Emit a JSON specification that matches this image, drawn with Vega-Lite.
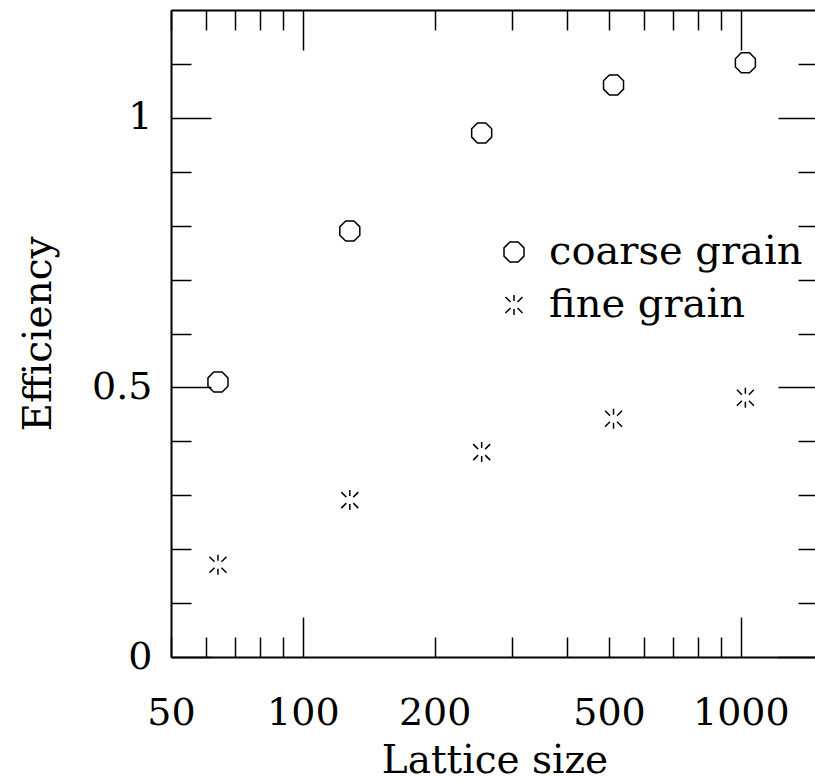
{
  "$schema": "https://vega.github.io/schema/vega-lite/v6.json",
  "width": 647,
  "height": 647,
  "autosize": {"type": "none"},
  "padding": {"left": 171, "top": 10, "right": -3, "bottom": 124},
  "background": "white",
  "config": {
    "view": {"stroke": null},
    "font": "DejaVu Serif",
    "axis": {
      "grid": false,
      "domainColor": "black",
      "domainWidth": 2,
      "tickColor": "black",
      "tickWidth": 1.5,
      "labelColor": "black",
      "labelFont": "DejaVu Serif",
      "labelFontSize": 38,
      "labelFlush": false,
      "labelOverlap": false,
      "labelBound": false,
      "titleFont": "DejaVu Serif",
      "titleFontSize": 39,
      "titleFontWeight": "normal",
      "titleColor": "black"
    },
    "legend": {
      "labelFont": "DejaVu Serif",
      "labelFontSize": 40,
      "labelColor": "black",
      "labelLimit": 0
    }
  },
  "data": {
    "values": [
      {"size": 64, "efficiency": 0.510, "grain": "coarse grain"},
      {"size": 128, "efficiency": 0.790, "grain": "coarse grain"},
      {"size": 256, "efficiency": 0.972, "grain": "coarse grain"},
      {"size": 512, "efficiency": 1.061, "grain": "coarse grain"},
      {"size": 1024, "efficiency": 1.102, "grain": "coarse grain"},
      {"size": 64, "efficiency": 0.171, "grain": "fine grain"},
      {"size": 128, "efficiency": 0.291, "grain": "fine grain"},
      {"size": 256, "efficiency": 0.380, "grain": "fine grain"},
      {"size": 512, "efficiency": 0.442, "grain": "fine grain"},
      {"size": 1024, "efficiency": 0.481, "grain": "fine grain"}
    ]
  },
  "layer": [
    {
      "mark": {"type": "point", "filled": false, "color": "black", "strokeWidth": 1.5, "size": 400, "opacity": 1},
      "encoding": {
        "x": {
          "field": "size",
          "type": "quantitative",
          "scale": {"type": "log", "domain": [50, 1500], "nice": false},
          "axis": {
            "orient": "bottom",
            "title": "Lattice size",
            "values": [50, 60, 70, 80, 90, 100, 200, 300, 400, 500, 600, 700, 800, 900, 1000],
            "format": "d",
            "labelExpr": "datum.value === 50 || datum.value === 100 || datum.value === 200 || datum.value === 500 || datum.value === 1000 ? datum.label : ''",
            "tickSize": {"condition": {"test": "datum.value === 100 || datum.value === 1000", "value": -40}, "value": -20},
            "labelPadding": {"condition": {"test": "datum.value === 100 || datum.value === 1000", "value": 77}, "value": 57},
            "titlePadding": 9
          }
        },
        "y": {
          "field": "efficiency",
          "type": "quantitative",
          "scale": {"domain": [0, 1.2], "nice": false, "zero": false},
          "axis": {
            "orient": "left",
            "title": "Efficiency",
            "values": [0, 0.1, 0.2, 0.3, 0.4, 0.5, 0.6, 0.7, 0.8, 0.9, 1, 1.1],
            "format": "~g",
            "labelExpr": "datum.value === 0 || datum.value === 0.5 || datum.value === 1 ? datum.label : ''",
            "tickSize": {"condition": {"test": "datum.value === 0 || datum.value === 0.5 || datum.value === 1", "value": -40}, "value": -20},
            "labelPadding": {"condition": {"test": "datum.value === 0 || datum.value === 0.5 || datum.value === 1", "value": 59}, "value": 39},
            "titlePadding": 33
          }
        },
        "shape": {
          "field": "grain",
          "type": "nominal",
          "scale": {
            "domain": ["coarse grain", "fine grain"],
            "range": [
              "M-0.414,-1L0.414,-1L1,-0.414L1,0.414L0.414,1L-0.414,1L-1,0.414L-1,-0.414Z",
              "M0,-1L0,-0.4M0,0.4L0,1M-0.85,-0.8L-0.35,-0.3M0.85,-0.8L0.35,-0.3M-0.85,0.8L-0.35,0.3M0.85,0.8L0.35,0.3"
            ]
          },
          "legend": {
            "orient": "none",
            "legendX": 323,
            "legendY": 222,
            "title": null,
            "padding": 0,
            "symbolSize": 400,
            "symbolStrokeWidth": 1.5,
            "symbolStrokeColor": "black",
            "symbolFillColor": "transparent",
            "labelOffset": 15,
            "rowPadding": 13
          }
        }
      }
    },
    {
      "mark": {"type": "point", "opacity": 0},
      "encoding": {
        "x": {
          "field": "size",
          "type": "quantitative",
          "axis": {
            "orient": "top",
            "title": null,
            "labels": false,
            "values": [50, 60, 70, 80, 90, 100, 200, 300, 400, 500, 600, 700, 800, 900, 1000],
            "tickSize": {"condition": {"test": "datum.value === 100 || datum.value === 1000", "value": -40}, "value": -20}
          }
        },
        "y": {
          "field": "efficiency",
          "type": "quantitative",
          "axis": {
            "orient": "right",
            "title": null,
            "labels": false,
            "values": [0, 0.1, 0.2, 0.3, 0.4, 0.5, 0.6, 0.7, 0.8, 0.9, 1, 1.1],
            "tickSize": {"condition": {"test": "datum.value === 0 || datum.value === 0.5 || datum.value === 1", "value": -40}, "value": -20}
          }
        }
      }
    }
  ]
}
